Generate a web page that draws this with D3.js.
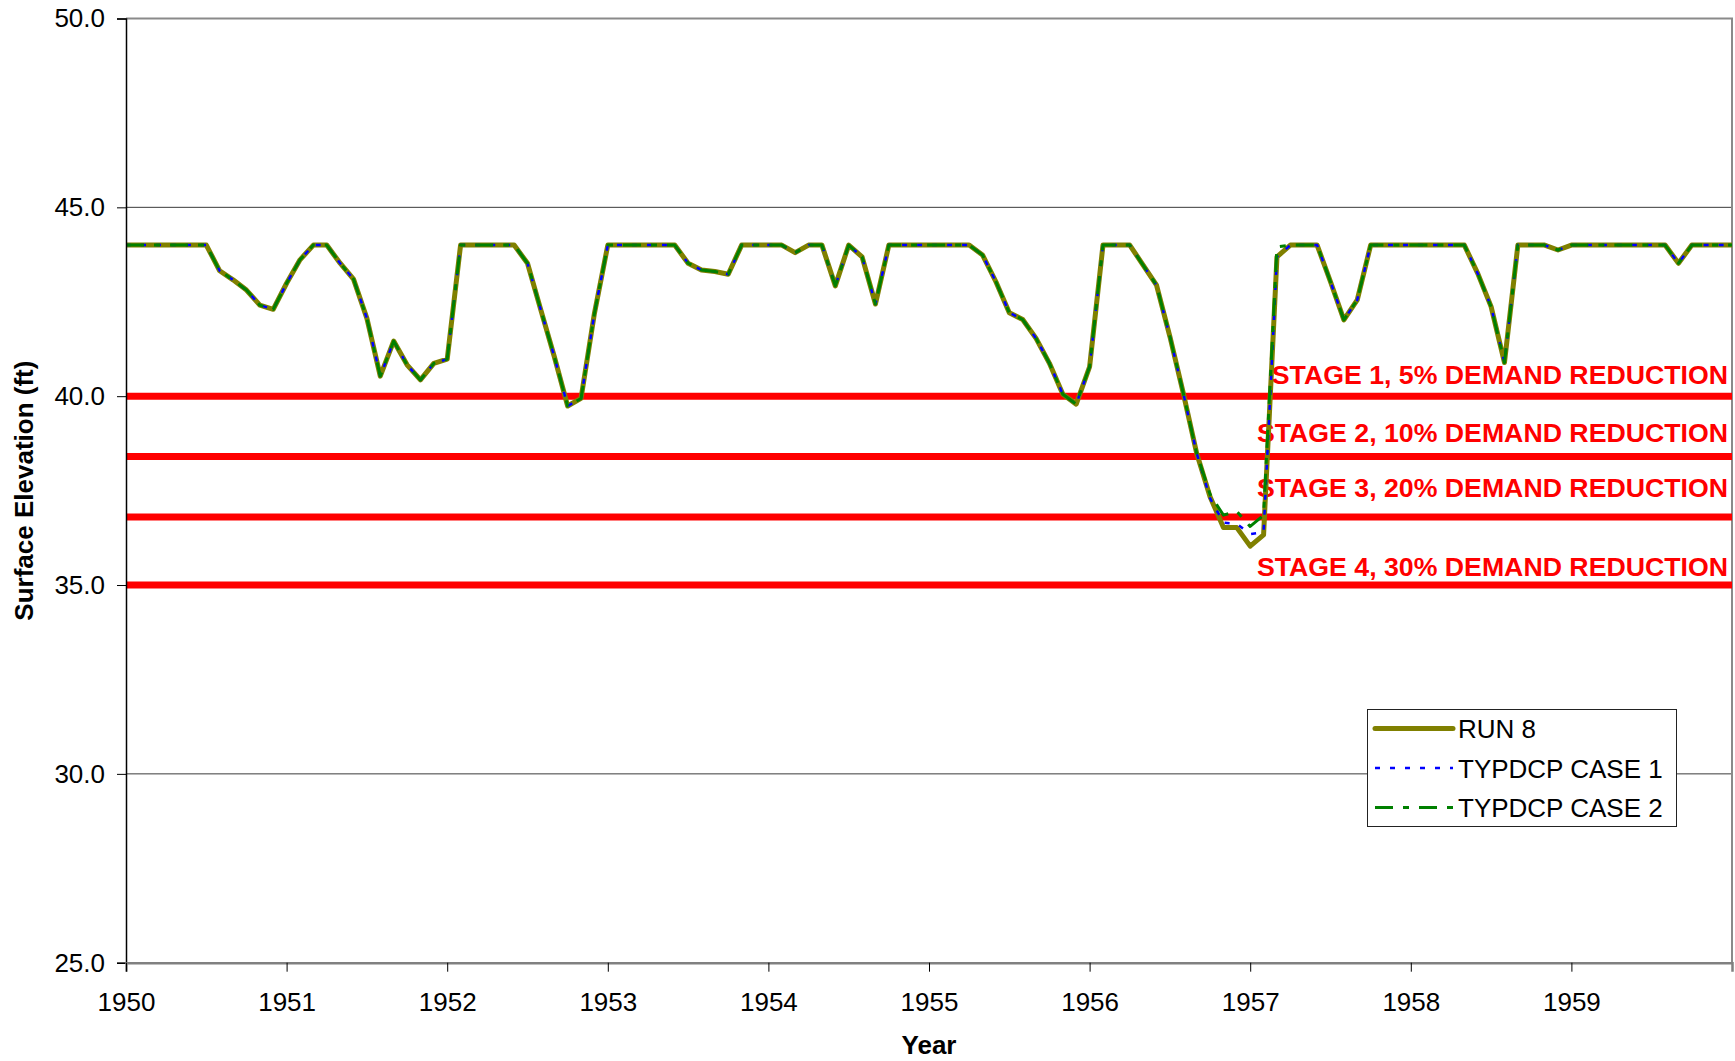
<!DOCTYPE html>
<html>
<head>
<meta charset="utf-8">
<script src="https://cdn.jsdelivr.net/npm/d3@7"></script>
<style>
  html, body { margin: 0; padding: 0; background: #fff; }
  svg { display: block; font-family: "Liberation Sans", Arial, sans-serif; }
</style>
</head>
<body>
<svg id="chart" width="1735" height="1061"></svg>
<script>
// Monthly surface elevation (ft), January 1950 through January 1960
const yearLabels = ["1950", "1951", "1952", "1953", "1954", "1955", "1956", "1957", "1958", "1959"];
const yTickValues = [25, 30, 35, 40, 45, 50];

const run8 = [
  44.0, 44.0, 44.0, 44.0, 44.0, 44.0, 44.0, 43.32, 43.08, 42.81, 42.41, 42.30,
  42.99, 43.61, 44.0, 44.0, 43.52, 43.10, 42.06, 40.53, 41.46, 40.83, 40.43, 40.87,
  40.98, 44.0, 44.0, 44.0, 44.0, 44.0, 43.52, 42.28, 41.05, 39.74, 39.94, 42.19,
  44.0, 44.0, 44.0, 44.0, 44.0, 44.0, 43.52, 43.34, 43.30, 43.23, 44.0, 44.0,
  44.0, 44.0, 43.80, 44.0, 44.0, 42.92, 44.0, 43.69, 42.44, 44.0, 44.0, 44.0,
  44.0, 44.0, 44.0, 44.0, 43.74, 43.03, 42.21, 42.03, 41.53, 40.87, 40.05, 39.79,
  40.78, 44.0, 44.0, 44.0, 43.47, 42.94, 41.58, 40.08, 38.49, 37.34, 36.52, 36.52,
  36.03, 36.33, 43.69, 44.0, 44.0, 44.0, 43.03, 42.02, 42.55, 44.0, 44.0, 44.0,
  44.0, 44.0, 44.0, 44.0, 44.0, 43.25, 42.37, 40.89, 44.0, 44.0, 44.0, 43.87,
  44.0, 44.0, 44.0, 44.0, 44.0, 44.0, 44.0, 44.0, 43.52, 44.0, 44.0, 44.0,
  44.0
];

const typdcpCase1 = [
  44.0, 44.0, 44.0, 44.0, 44.0, 44.0, 44.0, 43.32, 43.08, 42.81, 42.41, 42.30,
  42.99, 43.61, 44.0, 44.0, 43.52, 43.10, 42.06, 40.53, 41.46, 40.83, 40.43, 40.87,
  40.98, 44.0, 44.0, 44.0, 44.0, 44.0, 43.52, 42.28, 41.05, 39.74, 39.94, 42.19,
  44.0, 44.0, 44.0, 44.0, 44.0, 44.0, 43.52, 43.34, 43.30, 43.23, 44.0, 44.0,
  44.0, 44.0, 43.80, 44.0, 44.0, 42.92, 44.0, 43.69, 42.44, 44.0, 44.0, 44.0,
  44.0, 44.0, 44.0, 44.0, 43.74, 43.03, 42.21, 42.03, 41.53, 40.87, 40.05, 39.79,
  40.78, 44.0, 44.0, 44.0, 43.47, 42.94, 41.58, 40.08, 38.49, 37.30, 36.65, 36.62,
  36.35, 36.40, 43.69, 44.0, 44.0, 44.0, 43.03, 42.02, 42.55, 44.0, 44.0, 44.0,
  44.0, 44.0, 44.0, 44.0, 44.0, 43.25, 42.37, 40.89, 44.0, 44.0, 44.0, 43.87,
  44.0, 44.0, 44.0, 44.0, 44.0, 44.0, 44.0, 44.0, 43.52, 44.0, 44.0, 44.0,
  44.0
];

const typdcpCase2 = [
  44.0, 44.0, 44.0, 44.0, 44.0, 44.0, 44.0, 43.32, 43.08, 42.81, 42.41, 42.30,
  42.99, 43.61, 44.0, 44.0, 43.52, 43.10, 42.06, 40.53, 41.46, 40.83, 40.43, 40.87,
  40.98, 44.0, 44.0, 44.0, 44.0, 44.0, 43.52, 42.28, 41.05, 39.74, 39.94, 42.19,
  44.0, 44.0, 44.0, 44.0, 44.0, 44.0, 43.52, 43.34, 43.30, 43.23, 44.0, 44.0,
  44.0, 44.0, 43.80, 44.0, 44.0, 42.92, 44.0, 43.69, 42.44, 44.0, 44.0, 44.0,
  44.0, 44.0, 44.0, 44.0, 43.74, 43.03, 42.21, 42.03, 41.53, 40.87, 40.05, 39.79,
  40.78, 44.0, 44.0, 44.0, 43.47, 42.94, 41.58, 40.08, 38.49, 37.40, 36.85, 36.95,
  36.55, 36.85, 43.95, 44.0, 44.0, 44.0, 43.03, 42.02, 42.55, 44.0, 44.0, 44.0,
  44.0, 44.0, 44.0, 44.0, 44.0, 43.25, 42.37, 40.89, 44.0, 44.0, 44.0, 43.87,
  44.0, 44.0, 44.0, 44.0, 44.0, 44.0, 44.0, 44.0, 43.52, 44.0, 44.0, 44.0,
  44.0
];

// Drought-response trigger elevations (ft)
const stageLevels = [40.0, 38.4, 36.8, 35.0];
const stageLabels = [
  "STAGE 1, 5% DEMAND REDUCTION",
  "STAGE 2, 10% DEMAND REDUCTION",
  "STAGE 3, 20% DEMAND REDUCTION",
  "STAGE 4, 30% DEMAND REDUCTION"
];

const seriesNames = ["RUN 8", "TYPDCP CASE 1", "TYPDCP CASE 2"];

// ---- layout ----
const plot = { left: 126, right: 1732, top: 18.5, bottom: 962.7 };
const FONT = 26;

const svg = d3.select("#chart");

const monthCount = run8.length - 1;
const x = d3.scaleLinear().domain([0, monthCount]).range([plot.left, plot.right]);
const y = d3.scaleLinear().domain([25, 50]).range([plot.bottom, plot.top]);

// horizontal gridlines
svg.append("g")
  .selectAll("line")
  .data(yTickValues.filter(v => v > 25 && v < 50))
  .join("line")
  .attr("x1", plot.left).attr("x2", plot.right)
  .attr("y1", d => y(d)).attr("y2", d => y(d))
  .attr("stroke", "#3a3a3a").attr("stroke-width", 1);

// plot frame (top and right edges)
svg.append("path")
  .attr("d", `M${plot.left},${plot.top}H${plot.right}V${plot.bottom}`)
  .attr("fill", "none").attr("stroke", "#8a8a8a").attr("stroke-width", 2);

// stage trigger lines
svg.append("g")
  .selectAll("line")
  .data(stageLevels)
  .join("line")
  .attr("x1", plot.left).attr("x2", plot.right)
  .attr("y1", d => y(d)).attr("y2", d => y(d))
  .attr("stroke", "#ff0000").attr("stroke-width", 7);

// stage labels, right-aligned above each trigger line
const labelDy = [-12, -15, -20, -9];
svg.append("g")
  .selectAll("text")
  .data(stageLevels)
  .join("text")
  .attr("x", 1728)
  .attr("y", (d, i) => y(d) + labelDy[i])
  .attr("text-anchor", "end")
  .attr("font-size", 26.7).attr("font-weight", "bold")
  .attr("fill", "#ff0000")
  .text((d, i) => stageLabels[i]);

// series lines
const line = d3.line().x((d, i) => x(i)).y(d => y(d));
const styles = [
  { data: run8, color: "#808000", width: 5, dash: null },
  { data: typdcpCase1, color: "#0000ff", width: 2.5, dash: "5,10" },
  { data: typdcpCase2, color: "#008000", width: 3, dash: "18,10,6,10" }
];
svg.append("g")
  .selectAll("path")
  .data(styles)
  .join("path")
  .attr("d", d => line(d.data))
  .attr("fill", "none")
  .attr("stroke", d => d.color)
  .attr("stroke-width", d => d.width)
  .attr("stroke-dasharray", d => d.dash)
  .attr("stroke-linejoin", "round");

// y axis
const yAxis = svg.append("g")
  .attr("transform", `translate(${plot.left},0)`)
  .call(d3.axisLeft(y).tickValues(yTickValues).tickSize(9).tickPadding(12)
    .tickFormat(d3.format(".1f")));
yAxis.select(".domain").attr("stroke", "#000").attr("stroke-width", 1.5);
yAxis.selectAll(".tick line").attr("stroke", "#000");
yAxis.selectAll("text").attr("font-size", FONT).attr("fill", "#000")
  .attr("font-family", "'Liberation Sans', Arial, sans-serif");

// x axis (labels every twelve months)
const xAxis = svg.append("g")
  .attr("transform", `translate(0,${plot.bottom})`)
  .call(d3.axisBottom(x).tickValues(yearLabels.map((d, i) => i * 12)).tickSize(9)
    .tickPadding(21).tickFormat((d, i) => yearLabels[i]));
xAxis.select(".domain").attr("stroke", "#808080").attr("stroke-width", 2.5);
xAxis.selectAll(".tick line").attr("stroke", "#000");
xAxis.selectAll("text").attr("font-size", FONT).attr("fill", "#000")
  .attr("font-family", "'Liberation Sans', Arial, sans-serif");

// axis titles
svg.append("text")
  .attr("x", (plot.left + plot.right) / 2).attr("y", 1054)
  .attr("text-anchor", "middle").attr("font-size", FONT).attr("font-weight", "bold")
  .text("Year");
svg.append("text")
  .attr("transform", `translate(33,${(plot.top + plot.bottom) / 2}) rotate(-90)`)
  .attr("text-anchor", "middle").attr("font-size", FONT).attr("font-weight", "bold")
  .text("Surface Elevation (ft)");

// legend
const legend = svg.append("g");
legend.append("rect")
  .attr("x", 1367.5).attr("y", 709.5).attr("width", 309).attr("height", 117)
  .attr("fill", "#fff").attr("stroke", "#222").attr("stroke-width", 1);
const rowY = [728.5, 768, 807.5];
const items = legend.selectAll("g.item")
  .data(styles)
  .join("g").attr("class", "item");
items.append("line")
  .attr("x1", 1375).attr("x2", 1453)
  .attr("y1", (d, i) => rowY[i]).attr("y2", (d, i) => rowY[i])
  .attr("stroke", d => d.color)
  .attr("stroke-width", d => d.width)
  .attr("stroke-dasharray", d => d.dash)
  .attr("stroke-linecap", (d, i) => i === 0 ? "round" : "butt");
items.append("text")
  .attr("x", 1458).attr("y", (d, i) => rowY[i] + 9.5)
  .attr("font-size", FONT).attr("fill", "#000")
  .text((d, i) => seriesNames[i]);
</script>
</body>
</html>
